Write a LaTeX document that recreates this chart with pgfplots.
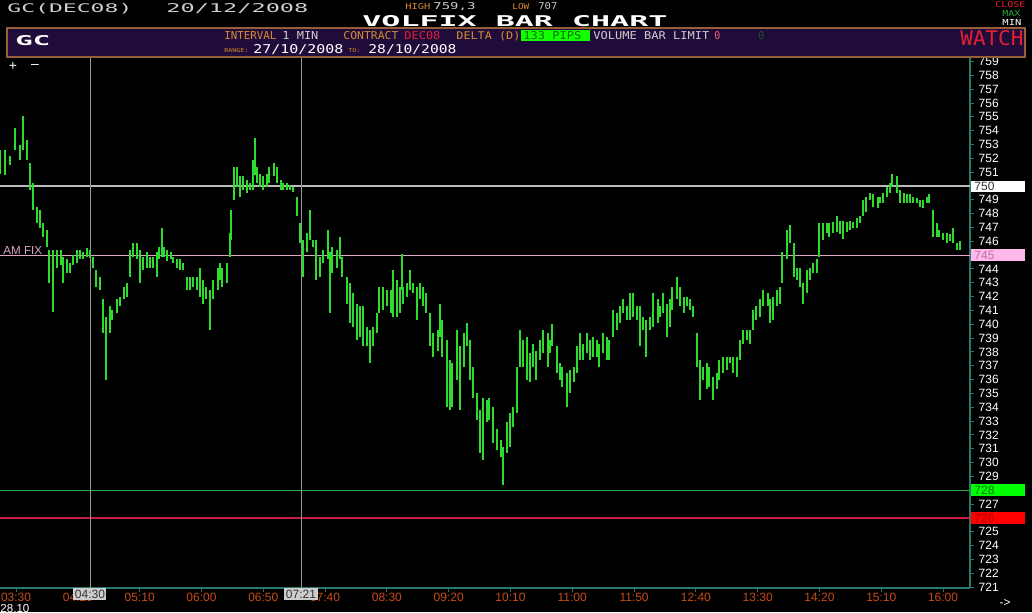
\documentclass[border=0pt]{standalone}
\usepackage{fontspec}
\usepackage{graphicx}
\usepackage{pgfplots}
\usepackage{pgfplotstable}
\pgfplotsset{compat=1.18}
\setmainfont{Liberation Sans}
\newfontfamily\mono{DejaVu Sans Mono}

\definecolor{bargreen}{RGB}{45,220,45}
\definecolor{axisteal}{RGB}{40,120,110}
\definecolor{ticktime}{RGB}{200,75,25}
\definecolor{lvlgray}{RGB}{185,185,185}
\definecolor{lvlpink}{RGB}{225,165,200}
\definecolor{lvlgreen}{RGB}{40,170,60}
\definecolor{lvlred}{RGB}{195,30,60}
\definecolor{vgray}{RGB}{150,150,150}
\definecolor{hdrorange}{RGB}{215,140,50}
\definecolor{hdrpurple}{RGB}{32,12,58}
\definecolor{hdrborder}{RGB}{150,95,55}
\definecolor{watchred}{RGB}{230,30,50}
\definecolor{ltgray}{RGB}{205,205,205}

\newlength\pxu
\setlength\pxu{0.5pt}
% text squeezed into a box of given pixel width/height, baseline at (x,y)
\newcommand{\pxtext}[6]{\node[anchor=base west, inner sep=0, text=#1] at (#2,#3) {\resizebox{#4\pxu}{#5\pxu}{#6}};}

% 1-min gold futures, time in minutes after midnight, high / low
\pgfplotstableread{
t hi lo
197 752.6 750.9
201 752.6 750.8
205 752.2 751.5
209 754.2 752.6
213 753.0 751.9
216 755.1 752.6
219 753.3 751.9
221 751.7 749.7
224 750.2 748.3
227 748.5 747.3
229 748.3 747.0
232 747.3 746.3
235 746.8 745.6
237 745.4 743.0
240 745.4 740.9
243 745.4 744.1
246 745.4 744.3
248 744.9 743.0
251 744.7 743.7
254 744.4 743.7
256 745.0 744.3
259 745.4 744.4
262 745.4 744.7
264 745.2 744.7
267 745.5 744.9
270 745.4 744.8
272 744.9 744.1
275 743.9 742.7
278 743.4 742.5
280 741.8 739.4
283 740.5 736.0
286 741.3 739.4
288 741.0 740.3
292 741.8 740.8
294 742.0 741.3
297 742.7 741.8
300 743.0 742.0
302 745.4 743.4
305 745.9 744.9
308 745.9 744.7
310 745.4 743.0
313 744.9 743.9
316 745.2 744.1
318 744.9 744.1
321 744.9 744.1
324 745.2 743.4
326 745.6 744.7
328 747.0 744.9
330 745.6 744.9
332 745.4 744.6
335 745.2 744.7
337 744.9 744.4
340 744.7 744.1
343 744.7 743.9
345 744.4 743.9
348 743.4 742.5
351 743.4 742.5
353 743.4 742.7
356 743.4 742.5
359 744.1 742.0
361 743.2 741.5
364 742.7 741.8
367 742.5 739.6
369 743.2 741.8
373 744.1 742.5
375 744.4 743.2
377 744.1 742.7
381 744.4 743.0
383 746.6 744.9
384 748.3 746.1
386 751.4 749.0
389 751.4 749.9
391 750.7 749.2
394 750.7 749.7
397 750.4 749.5
399 750.2 749.7
402 751.9 749.7
403 753.5 750.8
405 751.4 750.2
407 750.9 749.9
410 750.7 749.7
413 750.9 749.9
415 751.4 750.2
419 751.7 750.7
421 751.4 750.2
424 750.4 749.7
426 750.2 749.7
429 750.2 749.7
432 750.1 749.7
434 749.9 749.6
437 749.2 747.8
440 747.3 745.9
442 746.1 743.4
445 746.6 745.2
448 748.3 746.1
450 746.1 745.6
453 746.1 743.2
456 744.9 743.4
458 745.4 744.4
462 746.8 744.7
464 745.2 740.8
466 745.6 743.7
470 745.4 744.1
472 746.3 744.7
474 744.9 743.4
478 743.4 741.5
480 743.0 740.1
483 742.3 739.8
486 741.5 738.9
488 741.3 739.1
491 741.3 738.4
494 739.8 738.4
496 739.6 737.2
499 739.8 738.4
502 740.8 739.4
504 742.7 740.8
507 742.7 741.0
510 742.5 741.3
513 742.5 740.8
515 743.9 740.5
518 743.2 740.5
521 742.7 740.8
522 745.1 742.5
523 742.7 741.5
526 743.0 742.0
529 743.9 742.5
531 743.0 742.3
534 742.7 740.3
537 743.0 741.8
539 742.7 741.3
542 742.3 740.8
545 740.8 738.4
547 739.4 737.6
551 739.6 738.1
553 741.5 739.1
555 740.3 737.6
559 738.9 734.0
561 737.4 733.8
563 737.2 734.0
567 739.6 736.0
569 738.4 733.8
572 739.4 736.9
575 740.1 738.4
577 738.9 736.0
580 736.9 734.7
583 735.0 733.1
585 733.8 730.7
588 734.7 730.2
591 734.5 732.9
593 734.7 733.1
596 734.0 731.4
599 732.4 730.9
602 731.6 730.4
604 731.1 728.4
607 732.9 730.7
610 733.6 731.1
612 734.0 732.6
615 736.9 733.6
618 739.6 736.9
620 738.9 736.9
623 739.1 736.0
626 737.9 735.8
628 738.6 736.9
631 738.1 736.0
634 738.9 737.4
636 739.6 737.9
640 739.4 736.9
642 738.9 737.9
644 740.0 738.4
648 738.4 736.5
650 737.2 736.0
652 736.9 735.5
656 736.5 734.0
658 736.7 735.0
661 736.9 735.8
664 738.4 736.5
666 739.4 737.4
669 738.6 737.4
672 739.4 737.9
674 738.9 737.4
677 739.1 737.6
680 738.9 737.6
682 738.6 736.9
685 739.4 737.9
688 739.1 737.4
690 738.9 737.4
693 741.0 739.1
696 740.8 739.6
699 741.3 740.1
701 741.8 740.8
704 741.3 740.3
707 742.3 740.3
709 742.3 740.5
712 741.3 740.3
715 741.3 738.4
717 740.5 739.6
720 740.3 737.6
723 740.5 739.6
725 742.3 739.8
729 741.8 740.1
731 741.3 740.5
733 742.3 740.8
737 741.5 739.1
739 741.8 739.8
741 742.7 741.0
745 743.4 741.8
747 742.7 741.3
750 742.0 740.8
753 742.0 741.3
755 741.8 741.0
758 741.3 740.5
761 739.4 736.9
763 737.4 734.5
766 736.9 736.0
769 737.2 735.3
771 736.9 735.5
774 736.2 734.5
777 736.5 735.3
779 737.4 736.0
782 737.6 736.5
785 737.6 736.7
788 737.6 737.2
790 737.6 736.5
793 737.6 736.2
796 738.9 737.4
798 739.6 738.6
801 739.6 738.9
804 739.6 738.6
806 741.0 739.6
809 741.3 740.3
812 741.8 740.5
814 742.5 741.3
818 742.3 741.3
820 741.8 740.1
822 742.0 740.3
826 742.5 741.3
828 742.7 741.5
830 745.2 743.0
834 746.8 744.7
836 747.2 745.9
839 745.9 743.4
842 744.1 743.2
844 744.1 742.7
847 743.0 741.5
850 743.9 742.3
852 744.1 743.2
855 744.4 743.7
858 744.7 743.7
860 747.3 744.9
863 747.3 746.1
866 747.3 746.6
868 747.3 746.3
871 747.4 746.6
874 747.8 746.7
877 747.5 746.5
879 747.5 746.2
882 747.4 746.7
885 747.5 746.8
887 747.4 747.0
890 747.7 747.0
893 747.8 747.3
895 749.0 747.8
898 749.2 748.1
901 749.5 749.0
903 749.4 748.5
907 749.2 748.4
909 749.2 748.8
911 749.5 748.8
915 749.9 749.2
917 750.2 749.5
919 750.9 749.9
923 750.7 749.5
925 749.7 748.8
928 749.5 748.8
931 749.4 748.8
933 749.4 748.8
936 749.2 748.8
939 749.1 748.8
941 749.0 748.5
944 749.0 748.4
947 749.2 748.8
949 749.4 748.8
952 748.3 746.3
955 747.3 746.3
957 746.8 746.3
960 746.6 746.1
963 746.6 745.9
966 746.5 746.0
968 747.0 745.9
971 745.9 745.4
974 746.0 745.4
}\pricedata

\begin{document}
\begin{tikzpicture}
\begin{scope}[x=0.5pt, y=-0.5pt]
  \fill[black] (0,0) rectangle (1032,612);
\end{scope}

\begin{axis}[
  at={(0pt,-294pt)}, anchor=south west,
  scale only axis, width=485pt, height=265.5pt,
  xmin=197, xmax=981.8, ymin=720.93, ymax=759.33,
  axis x line*=bottom, axis y line*=right,
  axis line style={draw=axisteal, line width=0.6pt},
  xtick={210,260,...,960},
  xticklabels={03:30,04:20,05:10,06:00,06:50,07:40,08:30,09:20,10:10,11:00,11:50,12:40,13:30,14:20,15:10,16:00},
  % 750, 745, 728 and 726 carry coloured tags instead
  ytick={721,722,723,724,725,727,729,730,731,732,733,734,735,736,737,738,739,740,741,742,743,744,746,747,748,749,751,752,753,754,755,756,757,758,759},
  tick align=outside, major tick length=1.8pt,
  tick style={draw=axisteal, line width=0.5pt},
  xticklabel style={text=ticktime, font=\fontsize{6}{6}\selectfont, yshift=2.8pt},
  yticklabel style={text=white, font=\fontsize{6}{6}\selectfont, anchor=west, xshift=-1pt},
  /pgf/number format/assume math mode=true,
]
% reference levels
\addplot[lvlgray, line width=0.6pt] coordinates {(197,750) (981.8,750)};
\addplot[lvlpink, line width=0.6pt] coordinates {(197,745) (981.8,745)};
\addplot[lvlgreen, line width=0.7pt] coordinates {(197,728) (981.8,728)};
\addplot[lvlred, line width=0.7pt] coordinates {(197,726) (981.8,726)};
% cursor lines at 04:30 and 07:21
\addplot[vgray, line width=0.6pt] coordinates {(270,720.93) (270,759.33)};
\addplot[vgray, line width=0.6pt] coordinates {(441,720.93) (441,759.33)};
% high-low bars
\addplot[draw=none, mark=none,
  error bars/.cd, y dir=plus, y explicit, error mark=none,
  error bar style={draw=bargreen, line width=1pt}]
  table[x=t, y=lo, y error expr=\thisrow{hi}-\thisrow{lo}] {\pricedata};
\end{axis}

\begin{scope}[x=0.5pt, y=-0.5pt]
  % header
  \pxtext{ltgray}{7}{12}{125}{9}{\mono GC(DEC08)}
  \pxtext{ltgray}{166}{12}{142}{9}{\mono 20/12/2008}
  \pxtext{hdrorange}{405}{9}{25}{6}{\mono HIGH}
  \pxtext{ltgray}{433}{9}{42}{7}{\mono 759,3}
  \pxtext{hdrorange}{512}{9}{17}{6}{\mono LOW}
  \pxtext{ltgray}{538}{9}{19}{7}{\mono 707}
  \pxtext{white}{362}{26}{305}{11}{\mono\bfseries VOLFIX BAR CHART}
  \pxtext{watchred}{995}{7}{30}{6}{\mono CLOSE}
  \pxtext{lvlgreen}{1002}{16}{18}{6}{\mono MAX}
  \pxtext{white}{1002}{25}{19}{6}{\mono MIN}
  \draw[hdrborder, fill=hdrpurple, line width=0.7pt] (7,28) rectangle (1025,57);
  \pxtext{white}{15}{45}{35}{10}{\mono\bfseries GC}
  \pxtext{hdrorange}{224}{39}{52}{8}{\mono INTERVAL}
  \pxtext{ltgray}{282}{39}{36}{8}{\mono 1 MIN}
  \pxtext{hdrorange}{343}{39}{55}{8}{\mono CONTRACT}
  \pxtext{watchred}{404}{39}{36}{8}{\mono DEC08}
  \pxtext{hdrorange}{456}{39}{64}{8}{\mono DELTA (D)}
  \fill[green!90!lime] (521,30) rectangle (590,41);
  \pxtext{green!45!black}{523}{39}{58}{8}{\mono 133 PIPS}
  \pxtext{ltgray}{593}{39}{116}{8}{\mono VOLUME BAR LIMIT}
  \pxtext{watchred!70!white}{714}{39}{6}{8}{\mono 0}
  \pxtext{lvlgreen!50!black}{758}{39}{6}{8}{\mono 0}
  \pxtext{hdrorange}{224}{52}{24}{4}{\mono RANGE:}
  \pxtext{white}{253}{53}{90}{9}{\mono 27/10/2008}
  \pxtext{hdrorange}{348}{52}{12}{4}{\mono TO:}
  \pxtext{white}{368}{53}{88}{9}{\mono 28/10/2008}
  \pxtext{watchred}{960}{45}{63}{15}{\mono WATCH}
  % zoom controls
  \node[text=white, inner sep=0, font=\fontsize{7}{7}\selectfont] at (13,66) {+};
  \node[text=white, inner sep=0, font=\fontsize{7}{7}\selectfont] at (35,66) {--};
  % level tags on the price scale
  \node[text=lvlpink, anchor=base west, inner sep=0, font=\fontsize{5.8}{5.8}\selectfont] at (3,254) {AM FIX};
  \fill[white] (971,181) rectangle (1025,192);
  \node[text=black!80, anchor=base west, inner sep=0, font=\fontsize{6}{6}\selectfont] at (974,190) {750};
  \fill[pink!60!magenta!50!white] (971,249) rectangle (1025,261);
  \node[text=magenta!60!black!70, anchor=base west, inner sep=0, font=\fontsize{6}{6}\selectfont] at (974,259) {745};
  \fill[green] (971,484) rectangle (1025,496);
  \node[text=green!45!black, anchor=base west, inner sep=0, font=\fontsize{6}{6}\selectfont] at (974,494) {728};
  \fill[red] (971,512) rectangle (1025,524);
  \node[text=red!65!black, anchor=base west, inner sep=0, font=\fontsize{6}{6}\selectfont] at (974,522) {726};
  % cursor time tags
  \fill[ltgray] (73,588) rectangle (106,600);
  \node[text=black!80, inner sep=0, font=\fontsize{6}{6}\selectfont] at (90,594) {04:30};
  \fill[ltgray] (284,588) rectangle (318,600);
  \node[text=black!80, inner sep=0, font=\fontsize{6}{6}\selectfont] at (301,594) {07:21};
  \node[text=white, anchor=base west, inner sep=0, font=\fontsize{5.8}{5.8}\selectfont] at (0,612) {28.10};
  \node[text=white, inner sep=0, font=\fontsize{6}{6}\selectfont] at (1005,603) {-{}>};
  % keep the page exactly the screen size
  \pgfresetboundingbox
  \useasboundingbox (0,0) rectangle (1032,612);
\end{scope}
\end{tikzpicture}
\end{document}
